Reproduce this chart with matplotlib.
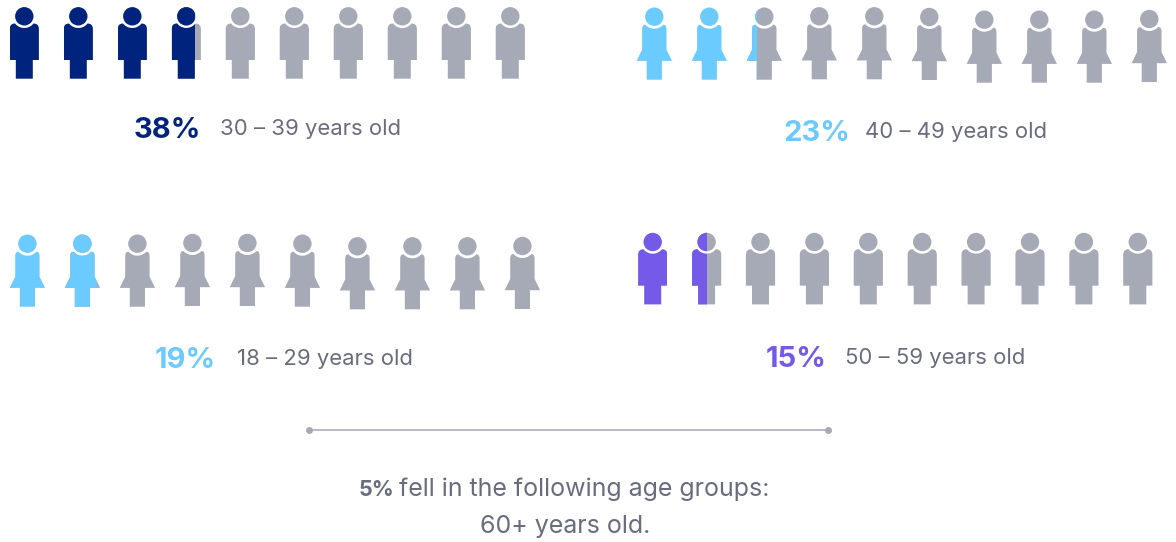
import numpy as np
import matplotlib
matplotlib.use('Agg')
import matplotlib.pyplot as plt
from matplotlib.path import Path
from matplotlib.patches import PathPatch, Rectangle, Circle

# share of respondents per age group
age_groups = ['30 – 39 years old', '40 – 49 years old', '18 – 29 years old', '50 – 59 years old']
shares = [38, 23, 19, 15]
other_share = 5
other_group = '60+ years old.'

GRAY = '#a6aab6'
TEXT = '#696c7d'
colors = ['#00247d', '#6bcbff', '#6bcbff', '#7559e8']
figures = ['man', 'woman', 'woman', 'man']

# x of first head, spacing, head y of each icon
rows = [
    (24.3, 54.0, [16.3] * 10),
    (654.3, 55.0, [16.7, 16.7, 16.7, 16.3, 16.3, 17, 19.7, 19.7, 19.7, 19]),
    (27.4, 55.0, [243.7, 243.7, 243.7, 243, 243, 243.7, 246.3, 246.3, 246.3, 246]),
    (652.7, 53.9, [242] * 10),
]
# x of percent, x of label, baseline
labels = [(134, 220, 138), (783, 865, 141), (155, 237, 368), (766, 845, 367)]

FONT = 'Inter'
plt.rcParams['font.family'] = [FONT, 'DejaVu Sans']


def neck(r, y, n=24):
    dx = np.sqrt(r ** 2 - y ** 2)
    a = np.arctan2(y, -dx)
    b = np.arctan2(y, dx)
    t = np.linspace(a, b, n)
    return [(r * np.cos(v), r * np.sin(v)) for v in t]


def icon_path(kind):
    # outline relative to the centre of the head, y pointing down
    if kind == 'man':
        w, top, arc = 14.6, 7.2, 11.7
        verts = neck(arc, top)
        codes = [Path.MOVETO] + [Path.LINETO] * (len(verts) - 1)
        verts += [(w, top), (w, top + 5.5), (w, 43.7), (8.5, 43.7), (8.5, 62.4),
                  (-8.5, 62.4), (-8.5, 43.7), (-w, 43.7), (-w, top + 5.5), (-w, top), (verts[0][0], top)]
        codes += [Path.CURVE3, Path.CURVE3, Path.LINETO, Path.LINETO, Path.LINETO,
                  Path.LINETO, Path.LINETO, Path.LINETO, Path.LINETO, Path.CURVE3, Path.CURVE3]
    else:
        w, top, arc = 12.2, 8.0, 12.0
        verts = neck(arc, top)
        codes = [Path.MOVETO] + [Path.LINETO] * (len(verts) - 1)
        verts += [(w, top), (w, top + 4.5), (w, 33), (17.7, 44.2), (7.6, 44.2), (7.6, 63),
                  (-7.6, 63), (-7.6, 44.2), (-17.7, 44.2), (-w, 33), (-w, top + 4.5), (-w, top), (verts[0][0], top)]
        codes += [Path.CURVE3, Path.CURVE3, Path.LINETO, Path.LINETO, Path.LINETO, Path.LINETO,
                  Path.LINETO, Path.LINETO, Path.LINETO, Path.LINETO, Path.LINETO, Path.CURVE3, Path.CURVE3]
    return Path(verts, codes)


def draw_icon(ax, kind, cx, cy, color, clip=None):
    body = PathPatch(icon_path(kind).transformed(matplotlib.transforms.Affine2D().translate(cx, cy)),
                     fc=color, ec='none')
    head = Circle((cx, cy), 9.2, fc=color, ec='none')
    for p in (body, head):
        ax.add_patch(p)
        if clip is not None:
            p.set_clip_path(clip)


fig = plt.figure(figsize=(11.76, 5.42), dpi=100)
ax = fig.add_axes([0, 0, 1, 1])
ax.set_xlim(0, 1176)
ax.set_ylim(542, 0)
ax.axis('off')

half = {'man': 14.6, 'woman': 17.7}
for share, color, kind, row in zip(shares, colors, figures, rows):
    x0, step, ys = row
    filled = share / 10
    for i, y in enumerate(ys):
        cx = x0 + i * step
        frac = min(max(filled - i, 0), 1)
        if frac < 1:
            draw_icon(ax, kind, cx, y, GRAY)
        if frac > 0:
            h = half[kind]
            clip = Rectangle((cx - h, y - 12), 2 * h * frac, 80, transform=ax.transData)
            draw_icon(ax, kind, cx, y, color, clip)

for share, group, color, pos in zip(shares, age_groups, colors, labels):
    ax.text(pos[0], pos[2], f'{share}%', color=color, fontsize=21, fontweight='bold', va='baseline')
    ax.text(pos[1], pos[2] - 3, group, color=TEXT, fontsize=15.9, va='baseline')

# divider
ax.plot([309, 828], [430, 430], color='#b6b9c6', lw=1.4, solid_capstyle='butt', zorder=1)
ax.plot([309, 828], [430, 430], 'o', color=GRAY, ms=5, mew=0, zorder=2)

ax.text(359, 496, f'{other_share}%', color=TEXT, fontsize=15.5, fontweight='bold', va='baseline')
ax.text(399, 496, 'fell in the following age groups:', color=TEXT, fontsize=18, va='baseline')
ax.text(565, 533, other_group, color=TEXT, fontsize=18, ha='center', va='baseline')

fig.savefig('out.png', dpi=100)
